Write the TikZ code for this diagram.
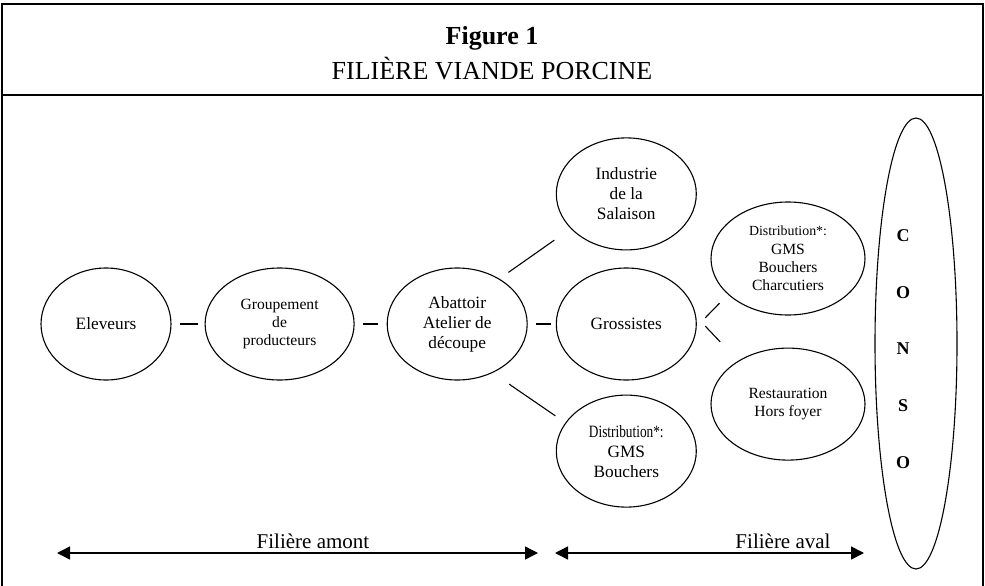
\documentclass[tikz,border=0pt]{standalone}
\usepackage{fontspec}
\setmainfont{Liberation Serif}
\usepackage{graphicx}
\usetikzlibrary{arrows.meta,positioning,shapes.geometric}

\begin{document}
\begin{tikzpicture}[x=1pt,y=-1pt,
node distance=17pt and 30pt,
actor/.style={draw,ellipse,line width=1.1pt,inner sep=0pt,align=center,
font=\fontsize{15.6}{18.3}\selectfont,
minimum width=140pt,minimum height=112pt},
bigactor/.style={actor,font=\fontsize{17.3}{20}\selectfont},
link/.style={line width=1.1pt,shorten <=8pt,shorten >=7pt},
span/.style={{Triangle[length=13pt,width=13pt]}-{Triangle[length=13pt,width=13pt]},line width=1.5pt},
lab/.style={anchor=base,font=\fontsize{21}{24}\selectfont},
frame/.style={line width=1.2pt}
]
\useasboundingbox (0,0) rectangle (985,586);

% title box
\draw[frame] (2,586) -- (2,4) -- (983,4) -- (983,586);
\draw[frame] (2,95) -- (983,95);
\node[anchor=base,font=\bfseries\fontsize{26}{30}\selectfont] (fig) at (492,45) {Figure 1};
\node[anchor=base,font=\fontsize{26}{30}\selectfont] (ttl) at (492,80) {FILIÈRE VIANDE PORCINE};

% filière amont
\node[bigactor,minimum width=130pt] (elev) at (106,324) {Eleveurs};
\node[actor,minimum width=149pt,right=33pt of elev] (group) {Groupement\\de\\producteurs};
\node[bigactor,right=32pt of group] (abat) {Abattoir\\Atelier de\\découpe};

% filière aval
\node[bigactor,right=28pt of abat] (gross) {Grossistes};
\node[bigactor,above=17pt of gross] (indus) {Industrie\\de la\\Salaison};
\node[bigactor,below=14pt of gross] (distrb) {\scalebox{0.77}[1]{Distribution*:}\\GMS\\Bouchers};
\node[actor,minimum width=154pt,minimum height=113pt] (distra) at (788,258.5)
  {{\fontsize{13.9}{18.3}\selectfont Distribution*:}\\GMS\\Bouchers\\Charcutiers};
\node[actor,minimum width=154pt,below=32pt of distra] (resto) {Restauration\\Hors foyer};
\node[actor,minimum width=82pt,minimum height=451pt] (conso) at (916,343.5) {};
\node[align=center,font=\bfseries\fontsize{18}{56.8}\selectfont] (letters) at (903,349) {C\\O\\N\\S\\O};

\draw[link] (elev) -- (group);
\draw[link,shorten >=9pt] (group) -- (abat);
\draw[link,shorten >=5pt] (abat) -- (gross);
\draw[link,shorten <=11pt,shorten >=20pt] (abat.47) -- (indus.212);
\draw[link,shorten <=20pt,shorten >=12pt] (abat.306) -- (distrb.155);
\draw[link,shorten <=12pt,shorten >=12pt] (gross.358) -- (distra.211);
\draw[link,shorten <=13pt,shorten >=26pt] (gross.6) -- (resto.139);

% bottom arrows
\coordinate (am1) at (57,553);
\coordinate (am2) at (538,553);
\coordinate (av1) at (555,553);
\coordinate (av2) at (864,553);
\draw[span] (am1) -- (am2);
\draw[span] (av1) -- (av2);
\node[lab] (amont) at (313,548) {Filière amont};
\node[lab] (aval) at (783,548) {Filière aval};
\end{tikzpicture}
\end{document}
